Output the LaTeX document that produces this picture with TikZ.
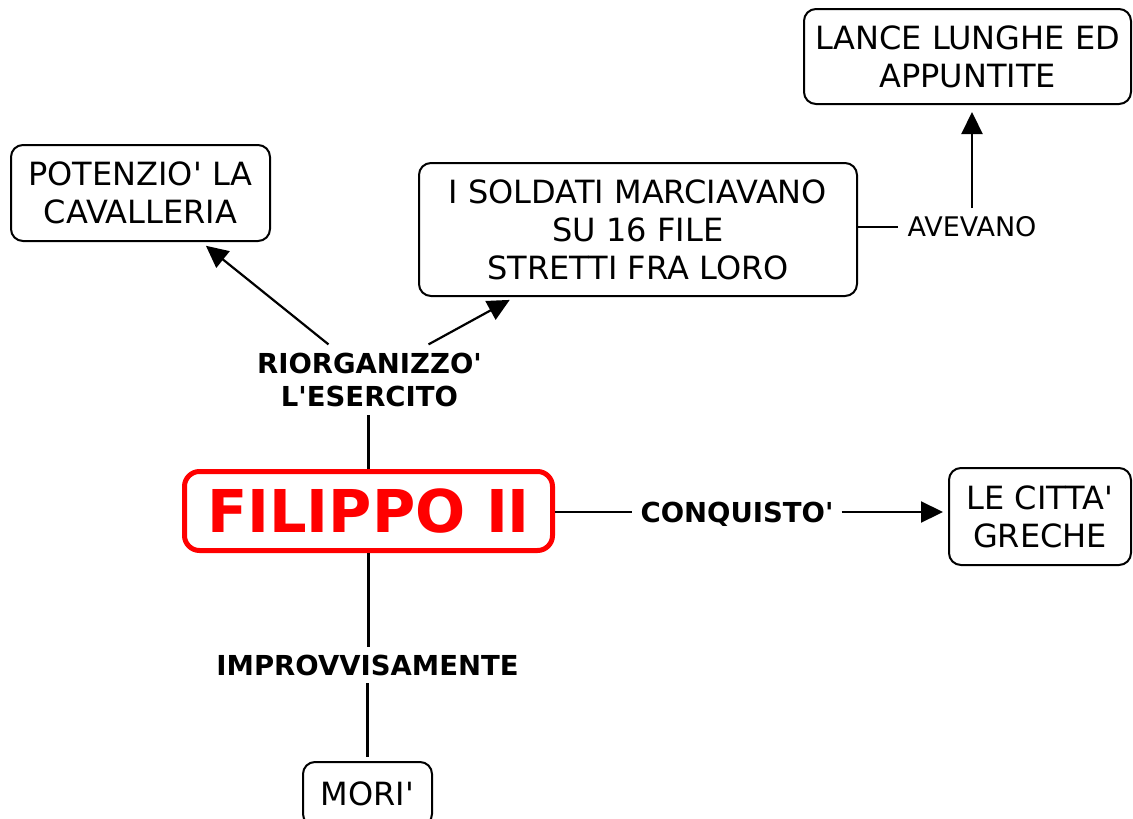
\documentclass[tikz,border=0pt]{standalone}
\usepackage{fontspec}
\setmainfont{DejaVu Sans}[Ligatures=TeXOff]
\usetikzlibrary{arrows.meta}
\begin{document}
\begin{tikzpicture}[x=1pt,y=-1pt,
  box/.style={draw,line width=2pt,rounded corners=12pt,align=center,
    font=\fontsize{32}{38}\selectfont,inner sep=0pt},
  lbl/.style={align=center,font=\fontsize{27.5}{33}\selectfont\bfseries,inner sep=8pt},
  con/.style={line width=2.2pt},
  arr/.style={con,-{Triangle[length=22pt,width=21pt]}}]
\useasboundingbox (0,0) rectangle (1133,819);

% concept boxes
\node[draw=red,line width=5pt,rounded corners=15pt,minimum width=368pt,minimum height=79pt,
  inner sep=0pt,text=red,font=\fontsize{59}{60}\selectfont\bfseries] (filippo) at (368.5,511) {FILIPPO II};
\node[box,minimum width=259pt,minimum height=96pt] (pot) at (140.5,193) {POTENZIO' LA\\CAVALLERIA};
\node[box,minimum width=438pt,minimum height=133pt] (sold) at (638,229.5) {I SOLDATI MARCIAVANO\\SU 16 FILE\\STRETTI FRA LORO};
\node[box,minimum width=327pt,minimum height=95pt] (lance) at (967.5,56.5) {LANCE LUNGHE ED\\APPUNTITE};
\node[box,minimum width=182pt,minimum height=97pt] (citta) at (1040,516.5) {LE CITTA'\\GRECHE};
\node[box,minimum width=129pt,minimum height=64pt] (mori) at (367.5,794) {MORI'};

% linking phrases
\node[lbl] (riorg) at (369.5,379.5) {RIORGANIZZO'\\L'ESERCITO};
\node[lbl,text depth=0pt,text height=20pt] (conq) at (737,512) {CONQUISTO'};
\node[lbl,text depth=0pt,text height=20pt] (impr) at (367.5,665) {IMPROVVISAMENTE};
\node[lbl,font=\fontsize{27}{30}\selectfont,text depth=0pt,text height=19.5pt,inner sep=9pt] (avev) at (972,227) {AVEVANO};

\coordinate (r1) at ([xshift=-41pt]riorg.north);
\coordinate (r2) at ([xshift=59pt]riorg.north);

% connectors
\draw[con] (filippo.north) -- (filippo.north |- riorg.south);
\draw[arr,shorten >=6pt] (r1) -- (pot);
\draw[arr,shorten >=6pt] (r2) -- (sold);
\draw[con] (filippo.east |- conq) -- (conq.west);
\draw[arr,shorten >=5pt] (conq.east) -- (conq.east -| citta.west);
\draw[con] (filippo.south) -- (filippo.south |- impr.north);
\draw[con,shorten >=4pt] (impr.south) -- (impr.south |- mori.north);
\draw[con] (sold.east |- avev) -- (avev.west);
\draw[arr,shorten >=7pt] (avev.north) -- (avev.north |- lance.south);
\end{tikzpicture}
\end{document}
